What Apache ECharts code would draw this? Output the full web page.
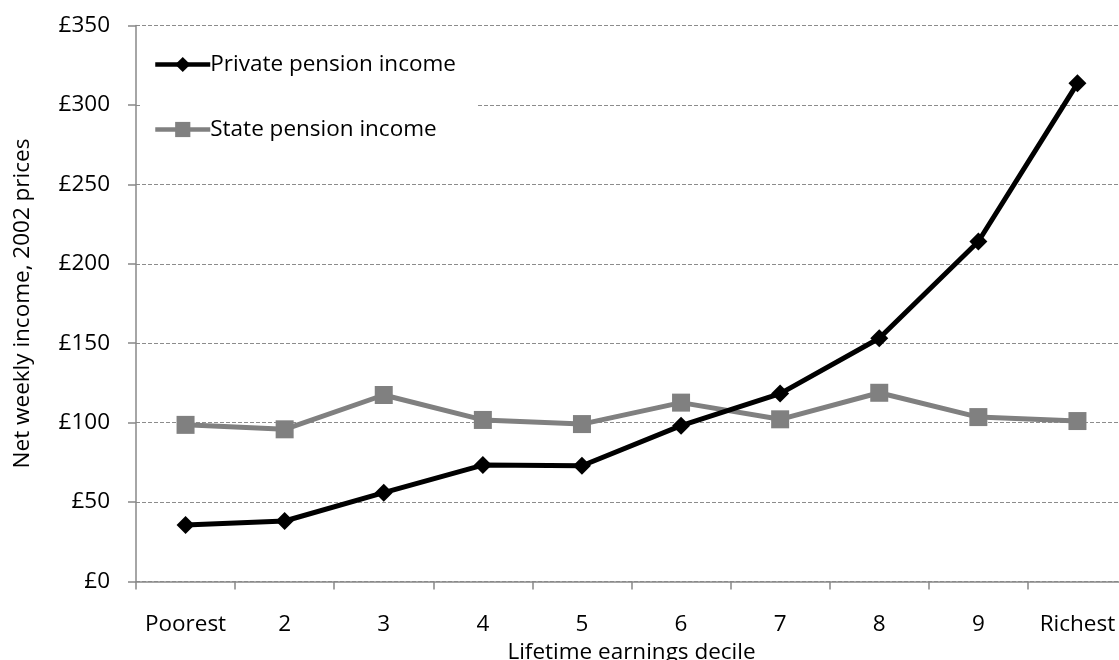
<!DOCTYPE html>
<html><head><meta charset="utf-8">
<script src="https://cdn.jsdelivr.net/npm/echarts@6/dist/echarts.min.js"></script>
<style>html,body{margin:0;padding:0;background:#fff}#c{width:1119px;height:660px}</style>
</head><body><div id="c"></div>
<script>
const categories = ['Poorest','2','3','4','5','6','7','8','9','Richest'];
const privatePension = [35.6, 38.1, 55.9, 73.3, 72.9, 98.1, 118.3, 153.1, 214.0, 313.6];
const statePension = [98.6, 95.8, 117.4, 101.7, 99.1, 112.6, 102.1, 118.8, 103.5, 101.0];
const yTicks = {min: 0, max: 350, interval: 50};
const seriesNames = ['Private pension income', 'State pension income'];

const FONT = 'Open Sans';
const FS = 22.5;
const chart = echarts.init(document.getElementById('c'));
chart.setOption({
  animation: false,
  backgroundColor: '#fff',
  textStyle: {fontFamily: FONT},
  grid: {left: 136, top: 25.5, width: 991, height: 556, outerBoundsMode: 'none', containLabel: false},
  legend: {
    orient: 'vertical', left: 140, top: 41,
    backgroundColor: '#fff',
    padding: [12, 22, 12, 13],
    itemWidth: 55, itemHeight: 19, itemGap: 42,
    textStyle: {fontFamily: FONT, fontSize: FS, color: '#000', padding: [0,0,0,-5]},
    data: [
      {name: seriesNames[0], lineStyle: {width: 4.5}},
      {name: seriesNames[1], lineStyle: {width: 4.5}}
    ]
  },
  xAxis: {
    type: 'category', data: categories, boundaryGap: true,
    name: 'Lifetime earnings decile', nameLocation: 'middle', nameGap: 56,
    nameTextStyle: {fontFamily: FONT, fontSize: FS, color: '#000'},
    axisLine: {lineStyle: {color: '#888', width: 1.5}},
    axisTick: {show: true, interval: 0, length: 8, lineStyle: {color: '#888', width: 1.5}},
    axisLabel: {interval: 0, margin: 32, fontFamily: FONT, fontSize: FS, color: '#000'},
    splitLine: {show: false}
  },
  yAxis: {
    type: 'value', min: yTicks.min, max: yTicks.max, interval: yTicks.interval,
    name: 'Net weekly income, 2002 prices', nameLocation: 'middle', nameGap: 102,
    nameTextStyle: {fontFamily: FONT, fontSize: FS, color: '#000'},
    axisLine: {show: true, lineStyle: {color: '#888', width: 1.5}},
    axisTick: {show: true, inside: false, length: 8, lineStyle: {color: '#888', width: 1.5}},
    axisLabel: {margin: 26, fontFamily: FONT, fontSize: FS, color: '#000', formatter: v => '£' + v},
    splitLine: {show: true, lineStyle: {color: '#8c8c8c', type: [4, 2], width: 1}}
  },
  series: [
    {
      name: seriesNames[0], type: 'line', data: privatePension, z: 3,
      symbol: 'diamond', symbolSize: 18,
      lineStyle: {color: '#000', width: 5},
      itemStyle: {color: '#000'}
    },
    {
      name: seriesNames[1], type: 'line', data: statePension, z: 2,
      symbol: 'rect', symbolSize: 18,
      lineStyle: {color: '#808080', width: 5},
      itemStyle: {color: '#808080'}
    }
  ]
});
</script></body></html>
